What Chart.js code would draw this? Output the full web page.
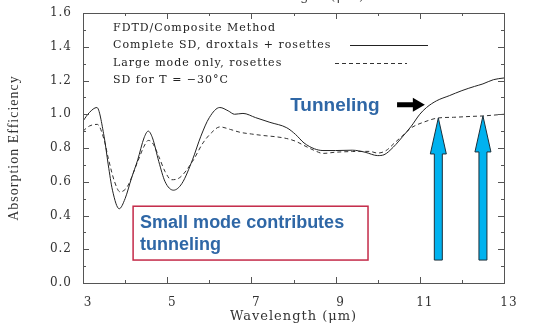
<!DOCTYPE html>
<html>
<head>
<meta charset="utf-8">
<script src="https://cdn.jsdelivr.net/npm/chart.js@4/dist/chart.umd.min.js"></script>
<style>
  body { margin: 0; background: #fff; }
  #chart { display: block; }
</style>
</head>
<body>
<canvas id="chart" width="534" height="332"></canvas>
<script>
// Complete size distribution (droxtals + rosettes)
const completeWl = [3.0, 3.15, 3.33, 3.5, 3.6, 3.7, 3.86, 4.0, 4.15, 4.3, 4.45, 4.55, 4.65, 4.8, 4.95, 5.15, 5.35, 5.6, 5.8, 6.0, 6.25, 6.45, 6.6, 6.8, 7.1, 7.44, 7.84, 8.05, 8.25, 8.5, 8.7, 9.0, 9.4, 9.7, 10.0, 10.15, 10.37, 10.6, 10.8, 11.0, 11.16, 11.4, 11.7, 12.0, 12.3, 12.5, 12.75, 13.0];
const completeQ  = [0.96, 1.01, 1.04, 0.87, 0.70, 0.55, 0.44, 0.50, 0.62, 0.73, 0.86, 0.90, 0.86, 0.72, 0.60, 0.55, 0.59, 0.73, 0.87, 0.98, 1.04, 1.02, 1.0, 1.005, 0.98, 0.952, 0.92, 0.88, 0.83, 0.795, 0.785, 0.785, 0.787, 0.775, 0.755, 0.76, 0.805, 0.87, 0.93, 1.0, 1.04, 1.08, 1.11, 1.14, 1.165, 1.18, 1.205, 1.215];

// Large mode only (rosettes)
const largeWl = [3.0, 3.15, 3.34, 3.5, 3.6, 3.75, 3.88, 4.05, 4.3, 4.45, 4.55, 4.65, 4.8, 4.95, 5.1, 5.3, 5.6, 5.85, 6.05, 6.25, 6.5, 6.73, 7.0, 7.28, 7.6, 7.84, 8.05, 8.25, 8.5, 8.7, 9.0, 9.4, 9.8, 10.0, 10.2, 10.4, 10.6, 10.8, 11.08, 11.44, 11.8, 12.2, 12.5, 13.0];
const largeQ  = [0.90, 0.93, 0.94, 0.85, 0.74, 0.60, 0.54, 0.57, 0.72, 0.81, 0.845, 0.83, 0.75, 0.66, 0.612, 0.625, 0.72, 0.83, 0.89, 0.925, 0.91, 0.893, 0.883, 0.874, 0.866, 0.856, 0.84, 0.815, 0.785, 0.768, 0.775, 0.779, 0.78, 0.77, 0.785, 0.83, 0.875, 0.92, 0.952, 0.978, 0.982, 0.987, 0.99, 1.0];

const seriesNames = ["Complete SD, droxtals + rosettes", "Large mode only, rosettes"];
const legendHeader = "FDTD/Composite Method";
const legendFooter = "SD for T = \u221230\u00b0C";

const xTicks = [3, 5, 7, 9, 11, 13];
const yTicks = [0, 0.2, 0.4, 0.6, 0.8, 1.0, 1.2, 1.4, 1.6];

// wavelengths marked with the blue arrows (tips sit on the large-mode curve)
const arrowWl = [11.44, 12.5];
const arrowBase = 0.136;

const serifFont = "'DejaVu Serif', serif";
const blueText = "#2f67a6";

function toPoints(xs, ys) { return xs.map((x, i) => ({x, y: ys[i]})); }

// spaced-out lettering for all plot text
const spacing = {
  id: "spacing",
  beforeUpdate(chart){ chart.ctx.letterSpacing = "1px"; },
  beforeDraw(chart){ chart.ctx.letterSpacing = "1px"; }
};

// inward ticks + frame
const frameTicks = {
  id: "frameTicks",
  afterDatasetsDraw(chart){
    const {ctx, chartArea: a, scales: {x, y}} = chart;
    ctx.save();
    ctx.strokeStyle = "#555";
    ctx.lineWidth = 1;
    ctx.strokeRect(a.left + 0.5, a.top + 0.5, a.right - a.left, a.bottom - a.top);
    ctx.beginPath();
    for(let v = 3; v <= 13; v++){
      const px = Math.round(x.getPixelForValue(v)) + 0.5;
      const len = v % 2 ? 6 : 3;
      ctx.moveTo(px, a.bottom); ctx.lineTo(px, a.bottom - len);
      ctx.moveTo(px, a.top); ctx.lineTo(px, a.top + len);
    }
    for(let i = 0; i <= 16; i++){
      const py = Math.round(y.getPixelForValue(i / 10)) + 0.5;
      const len = i % 2 ? 3 : 6;
      ctx.moveTo(a.left, py); ctx.lineTo(a.left + len, py);
      ctx.moveTo(a.right, py); ctx.lineTo(a.right - len, py);
    }
    ctx.stroke();
    // top axis title, cut off by the top edge
    ctx.fillStyle = "#444";
    ctx.font = "13px " + serifFont;
    ctx.textAlign = "center";
    ctx.textBaseline = "alphabetic";
    ctx.fillText("Wavelength (\u03bcm)", (a.left + a.right) / 2 + 8, 0);
    ctx.restore();
  }
};

// legend block inside the plot
const innerLegend = {
  id: "innerLegend",
  afterDatasetsDraw(chart){
    const {ctx, chartArea: a} = chart;
    const sets = chart.data.datasets;
    const tx = a.left + 30;
    ctx.save();
    ctx.font = "11px " + serifFont;
    ctx.fillStyle = "#222";
    ctx.textBaseline = "middle";
    ctx.fillText(legendHeader, tx, a.top + 15);
    ctx.fillText(sets[0].label, tx, a.top + 32);
    ctx.fillText(sets[1].label, tx, a.top + 50);
    ctx.fillText(legendFooter, tx, a.top + 67);
    const samples = [[350, 428, a.top + 32], [335, 407, a.top + 50]];
    samples.forEach((s, i) => {
      ctx.beginPath();
      ctx.strokeStyle = sets[i].borderColor;
      ctx.lineWidth = 1;
      ctx.setLineDash(sets[i].borderDash || []);
      ctx.moveTo(s[0], s[2] + 0.5);
      ctx.lineTo(s[1], s[2] + 0.5);
      ctx.stroke();
    });
    ctx.restore();
  }
};

function upArrow(ctx, cx, tipY, baseY){
  const shaftW = 8, headW = 16, headL = 36;
  ctx.beginPath();
  ctx.moveTo(cx, tipY);
  ctx.lineTo(cx + headW / 2, tipY + headL);
  ctx.lineTo(cx + shaftW / 2, tipY + headL);
  ctx.lineTo(cx + shaftW / 2, baseY);
  ctx.lineTo(cx - shaftW / 2, baseY);
  ctx.lineTo(cx - shaftW / 2, tipY + headL);
  ctx.lineTo(cx - headW / 2, tipY + headL);
  ctx.closePath();
  ctx.fillStyle = "#00b2ef";
  ctx.fill();
  ctx.strokeStyle = "#1b2f3a";
  ctx.lineWidth = 1;
  ctx.stroke();
}

// text, box and arrows laid over the curves
const callouts = {
  id: "callouts",
  afterDraw(chart){
    const {ctx, scales: {x, y}} = chart;
    ctx.save();
    ctx.letterSpacing = "0px";

    // "Tunneling" label and black arrow
    ctx.font = "bold 19px 'Liberation Sans', Arial, sans-serif";
    ctx.fillStyle = blueText;
    ctx.textBaseline = "alphabetic";
    ctx.fillText("Tunneling", x.getPixelForValue(7.92), y.getPixelForValue(1.02));
    const ay = y.getPixelForValue(1.057);
    const ax0 = x.getPixelForValue(10.46), ax1 = x.getPixelForValue(11.12);
    ctx.beginPath();
    ctx.moveTo(ax0, ay - 2.5);
    ctx.lineTo(ax1 - 12, ay - 2.5);
    ctx.lineTo(ax1 - 12, ay - 7);
    ctx.lineTo(ax1, ay);
    ctx.lineTo(ax1 - 12, ay + 7);
    ctx.lineTo(ax1 - 12, ay + 2.5);
    ctx.lineTo(ax0, ay + 2.5);
    ctx.closePath();
    ctx.fillStyle = "#000";
    ctx.fill();

    // boxed note
    const bx0 = x.getPixelForValue(4.19), bx1 = x.getPixelForValue(9.77);
    const by0 = y.getPixelForValue(0.455), by1 = y.getPixelForValue(0.136);
    ctx.fillStyle = "#fff";
    ctx.fillRect(bx0, by0, bx1 - bx0, by1 - by0);
    ctx.strokeStyle = "#c42a48";
    ctx.lineWidth = 1.5;
    ctx.strokeRect(bx0, by0, bx1 - bx0, by1 - by0);
    ctx.font = "bold 18px 'Liberation Sans', Arial, sans-serif";
    ctx.fillStyle = blueText;
    ctx.fillText("Small mode contributes", bx0 + 7, by0 + 22);
    ctx.fillText("tunneling", bx0 + 7, by0 + 44);

    // blue arrows up to the large-mode curve
    arrowWl.forEach(w => {
      const i = largeWl.indexOf(w);
      upArrow(ctx, x.getPixelForValue(w), y.getPixelForValue(largeQ[i]), y.getPixelForValue(arrowBase));
    });
    ctx.restore();
  }
};

const ctx = document.getElementById("chart").getContext("2d");
new Chart(ctx, {
  type: "scatter",
  data: {
    datasets: [
      {label: seriesNames[0], data: toPoints(completeWl, completeQ), showLine: true, borderColor: "#222", borderWidth: 1, pointRadius: 0, cubicInterpolationMode: "monotone"},
      {label: seriesNames[1], data: toPoints(largeWl, largeQ), showLine: true, borderColor: "#333", borderWidth: 1, borderDash: [4, 3], pointRadius: 0, cubicInterpolationMode: "monotone"}
    ]
  },
  options: {
    responsive: false,
    animation: false,
    devicePixelRatio: 1,
    layout: {padding: {top: 13, right: 30, left: 0, bottom: 0}},
    plugins: {legend: {display: false}, tooltip: {enabled: false}},
    scales: {
      x: {
        type: "linear", min: 3, max: 13,
        afterBuildTicks: s => { s.ticks = xTicks.map(v => ({value: v})); },
        afterFit: s => { s.height = 49; },
        grid: {display: false}, border: {display: false},
        ticks: {font: {family: serifFont, size: 12}, color: "#333", padding: 5, labelOffset: 5, maxRotation: 0},
        title: {display: true, text: "Wavelength (\u03bcm)", font: {family: serifFont, size: 13}, color: "#333", padding: {top: 0, bottom: 8}}
      },
      y: {
        min: 0, max: 1.6,
        afterBuildTicks: s => { s.ticks = yTicks.map(v => ({value: v})); },
        afterFit: s => { s.width = 83; },
        grid: {display: false}, border: {display: false},
        ticks: {font: {family: serifFont, size: 12}, color: "#333", padding: 3, callback: v => v.toFixed(1)},
        title: {display: true, text: "Absorption Efficiency", font: {family: "'Liberation Serif', serif", size: 14}, color: "#333", padding: {top: 6, bottom: 0}}
      }
    }
  },
  plugins: [spacing, frameTicks, innerLegend, callouts]
});
</script>
</body>
</html>
